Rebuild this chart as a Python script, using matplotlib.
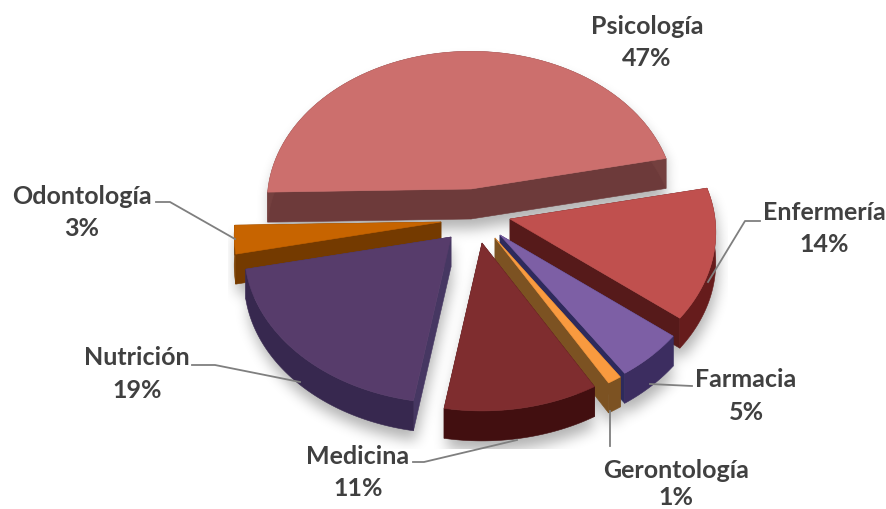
import numpy as np
import matplotlib
matplotlib.use("Agg")
import matplotlib.pyplot as plt
from matplotlib.patches import Polygon
from matplotlib.path import Path

plt.rcParams['font.family'] = ['Lato', 'DejaVu Sans']

# Data
categories = ['Psicología', 'Odontología', 'Nutrición', 'Medicina', 'Gerontología', 'Farmacia', 'Enfermería']
values = [47, 3, 19, 11, 1, 5, 14]

# Colours for each slice: top, rim wall, cut walls
top_colors = ['#cc6f6d', '#c76400', '#573c6b', '#7f2d2f', '#f99a3f', '#7d5fa5', '#c0504e']
rim_colors = ['#74403f', '#7c3f00', '#37284f', '#420f10', '#7c5222', '#3c2d60', '#661c1c']
cut_colors = ['#6d3a3a', '#743a00', '#463762', '#420f10', '#7c5222', '#2e2a5c', '#561a1a']

# Where the tip of every exploded slice ends up, and its radius
tip_x = [471, 441, 451, 482, 495, 500, 510]
tip_y = [190, 223, 238, 244, 239, 236, 220]
radius = [203, 206, 206, 208, 210, 209, 205]

# Draw order, back to front
draw_order = [0, 1, 6, 2, 5, 4, 3]

start_angle = 12
depth = 30
tilt = 0.737
persp = 0.087


def project(i, angles):
    t = np.radians(angles)
    x = np.cos(t)
    y = np.sin(t)
    w = 1 + persp * y
    return tip_x[i] + radius[i] * x / w, tip_y[i] - radius[i] * tilt * y / w


def slice_angles():
    spans = np.array(values) / sum(values) * 360
    ends = start_angle + np.cumsum(spans)
    return ends - spans, ends


def shadow_layer(tops):
    # soft shadow: rasterise the slices, box blur three times
    yy, xx = np.mgrid[0:510, 0:886]
    pts = np.column_stack([xx.ravel() + 0.5, yy.ravel() + 0.5])
    mask = np.zeros(xx.size, dtype=float)
    for poly in tops:
        for dy in (10, 26, 40):
            inside = Path(poly + np.array([2, dy])).contains_points(pts)
            mask[inside] = 1
    mask = mask.reshape(xx.shape)
    kernel = np.ones(13) / 13
    for _ in range(3):
        mask = np.apply_along_axis(lambda r: np.convolve(r, kernel, mode='same'), 1, mask)
        mask = np.apply_along_axis(lambda c: np.convolve(c, kernel, mode='same'), 0, mask)
    mask[450:, :] = 0
    mask[:, :228] = 0
    mask[:, 728:] = 0
    rgba = np.zeros(mask.shape + (4,))
    rgba[..., 3] = mask * 0.3
    return rgba


fig = plt.figure(figsize=(8.86, 5.10), dpi=100)
ax = fig.add_axes([0, 0, 1, 1])
ax.set_xlim(0, 886)
ax.set_ylim(510, 0)
ax.axis('off')

starts, ends = slice_angles()

tops = []
for i in range(len(values)):
    arc_x, arc_y = project(i, np.linspace(starts[i], ends[i], 80))
    tops.append(np.column_stack([np.r_[tip_x[i], arc_x], np.r_[tip_y[i], arc_y]]))

ax.imshow(shadow_layer(tops), extent=(0, 886, 510, 0), aspect='auto', zorder=1, interpolation='bilinear')
ax.set_xlim(0, 886)
ax.set_ylim(510, 0)

z = 2
for i in draw_order:
    top = tops[i]
    tip = top[0]
    arc = top[1:]
    drop = np.array([0, depth])
    # the two cut walls
    for end in (arc[0], arc[-1]):
        wall = np.array([tip, end, end + drop, tip + drop])
        ax.add_patch(Polygon(wall, closed=True, fc=cut_colors[i], ec=cut_colors[i], lw=0.4, zorder=z))
    # rim
    rim = np.vstack([arc, (arc + drop)[::-1]])
    ax.add_patch(Polygon(rim, closed=True, fc=rim_colors[i], ec=rim_colors[i], lw=0.4, zorder=z))
    ax.add_patch(Polygon(top, closed=True, fc=top_colors[i], ec=top_colors[i], lw=0.4, zorder=z + 0.5))
    z += 1

# labels: name and percentage
label_x = [647, 82, 137, 358, 676, 746, 824]
name_y = [26, 197, 358, 457, 471, 380, 213]
pct_y = [58, 229, 391, 489, 498, 413, 245]
for i, name in enumerate(categories):
    ax.text(label_x[i], name_y[i], name, ha='center', va='center', fontsize=18,
            fontweight='bold', color='#404040', zorder=30)
    ax.text(label_x[i], pct_y[i], f'{values[i]}%', ha='center', va='center', fontsize=18,
            fontweight='bold', color='#404040', zorder=30)

# leader lines
leaders = [
    ([156, 170, 235], [203, 203, 240]),
    ([192, 215, 300], [366, 366, 383]),
    ([413, 424, 517], [463, 463, 441]),
    ([610, 610], [412, 447]),
    ([650, 692], [385, 387]),
    ([708, 745, 760], [283, 222, 222]),
]
for lx, ly in leaders:
    ax.plot(lx, ly, color='#7f7f7f', lw=1.3, zorder=25)

fig.savefig('out.png', dpi=100)
